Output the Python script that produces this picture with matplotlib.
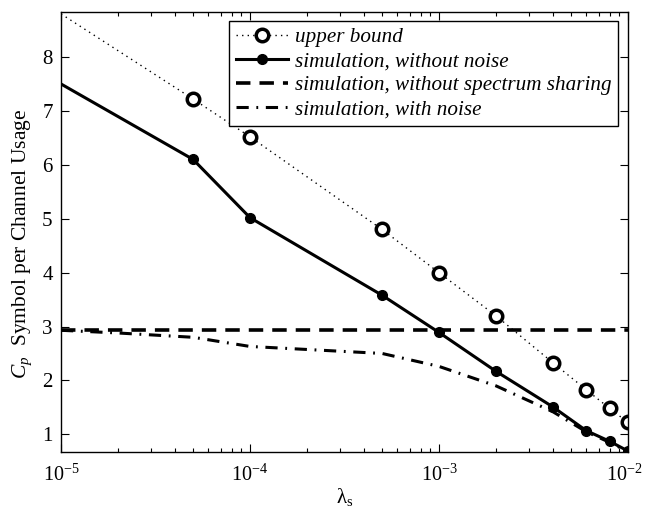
import matplotlib
matplotlib.use("Agg")
import matplotlib.pyplot as plt
import matplotlib.transforms as mtransforms
from matplotlib.ticker import LogLocator, NullFormatter, FixedLocator

plt.rcParams['font.family'] = ['Liberation Serif', 'DejaVu Serif']
plt.rcParams['mathtext.fontset'] = 'custom'
plt.rcParams['mathtext.rm'] = 'Liberation Serif'
plt.rcParams['mathtext.it'] = 'Liberation Serif:italic'
plt.rcParams['mathtext.default'] = 'rm'

# data
lam = [1e-5, 5e-5, 1e-4, 5e-4, 1e-3, 2e-3, 4e-3, 6e-3, 8e-3, 1e-2]
upper_bound = [8.8, 7.22, 6.52, 4.8, 4.0, 3.2, 2.33, 1.83, 1.48, 1.22]
sim_no_noise = [7.5, 6.1, 5.02, 3.58, 2.89, 2.17, 1.51, 1.07, 0.87, 0.69]
lam_share = [1e-5, 1e-2]
sim_no_sharing = [2.93, 2.93]
lam_noise = [1e-5, 2e-5, 5e-5, 1e-4, 5e-4, 1e-3, 2e-3, 4e-3, 6e-3, 8e-3, 1e-2]
sim_noise = [2.93, 2.88, 2.8, 2.63, 2.5, 2.26, 1.9, 1.42, 1.05, 0.85, 0.68]

labels = ['upper bound', 'simulation, without noise',
          'simulation, without spectrum sharing', 'simulation, with noise']
xtick_vals = [1e-5, 1e-4, 1e-3, 1e-2]
xtick_labels = [r'$10^{-5}$', r'$10^{-4}$', r'$10^{-3}$', r'$10^{-2}$']
ytick_vals = [1, 2, 3, 4, 5, 6, 7, 8]

fig = plt.figure(figsize=(6.45, 5.12), dpi=100)
ax = fig.add_axes([0.0946, 0.117, 0.879, 0.859])

ax.plot(lam, upper_bound, linestyle=(0, (1, 3)), color='k', linewidth=1.0,
        marker='o', markersize=9, markerfacecolor='white', markeredgewidth=2.5,
        markeredgecolor='k', markevery=list(range(1, len(lam))), label=labels[0])
ax.plot(lam, sim_no_noise, '-', color='k', linewidth=2.2, marker='o', markersize=7,
        markerfacecolor='k', markevery=list(range(1, len(lam))), label=labels[1])
ax.plot(lam_share, sim_no_sharing, color='k', linewidth=2.6, linestyle=(0, (4, 2.5)),
        label=labels[2])
ax.plot(lam_noise, sim_noise, color='k', linewidth=2.2, linestyle=(0, (4, 2.5, 0.6, 2.5)),
        label=labels[3])

ax.set_xscale('log')
ax.set_xlim(1e-5, 1e-2)
ax.set_ylim(0.67, 8.83)
ax.xaxis.set_major_locator(FixedLocator(xtick_vals))
ax.xaxis.set_minor_locator(LogLocator(base=10, subs=range(2, 10), numticks=20))
ax.xaxis.set_minor_formatter(NullFormatter())
ax.set_xticklabels(xtick_labels)
ax.set_yticks(ytick_vals)
ax.tick_params(which='both', direction='in', top=True, right=True, labelsize=15)
ax.tick_params(axis='x', labelsize=14.5, pad=9)
ax.tick_params(axis='y', pad=6)
ax.tick_params(which='major', length=6, width=0.8)
ax.tick_params(which='minor', length=3, width=0.8)
for s in ax.spines.values():
    s.set_linewidth(1.0)

# nudge last x tick label so it stays inside the canvas
lbl = ax.get_xticklabels()[-1]
lbl.set_transform(lbl.get_transform() + mtransforms.ScaledTranslation(-4/100, 0, fig.dpi_scale_trans))

ax.set_xlabel(r'$\lambda_s$', fontsize=15, labelpad=0)
ax.set_ylabel(r'$\mathit{C}_{\mathit{p}}$  Symbol per Channel Usage', fontsize=15.5)
ax.yaxis.set_label_coords(-0.047, 0.474)

leg = ax.legend(loc='upper right', bbox_to_anchor=(0.982, 0.9795), borderaxespad=0,
                fancybox=False, edgecolor='k', framealpha=1,
                prop={'style': 'italic', 'size': 15.2},
                handlelength=2.5, borderpad=0.3, labelspacing=0.2, handletextpad=0.3)
leg.get_frame().set_linewidth(1.0)

fig.savefig('out.png', dpi=100)
